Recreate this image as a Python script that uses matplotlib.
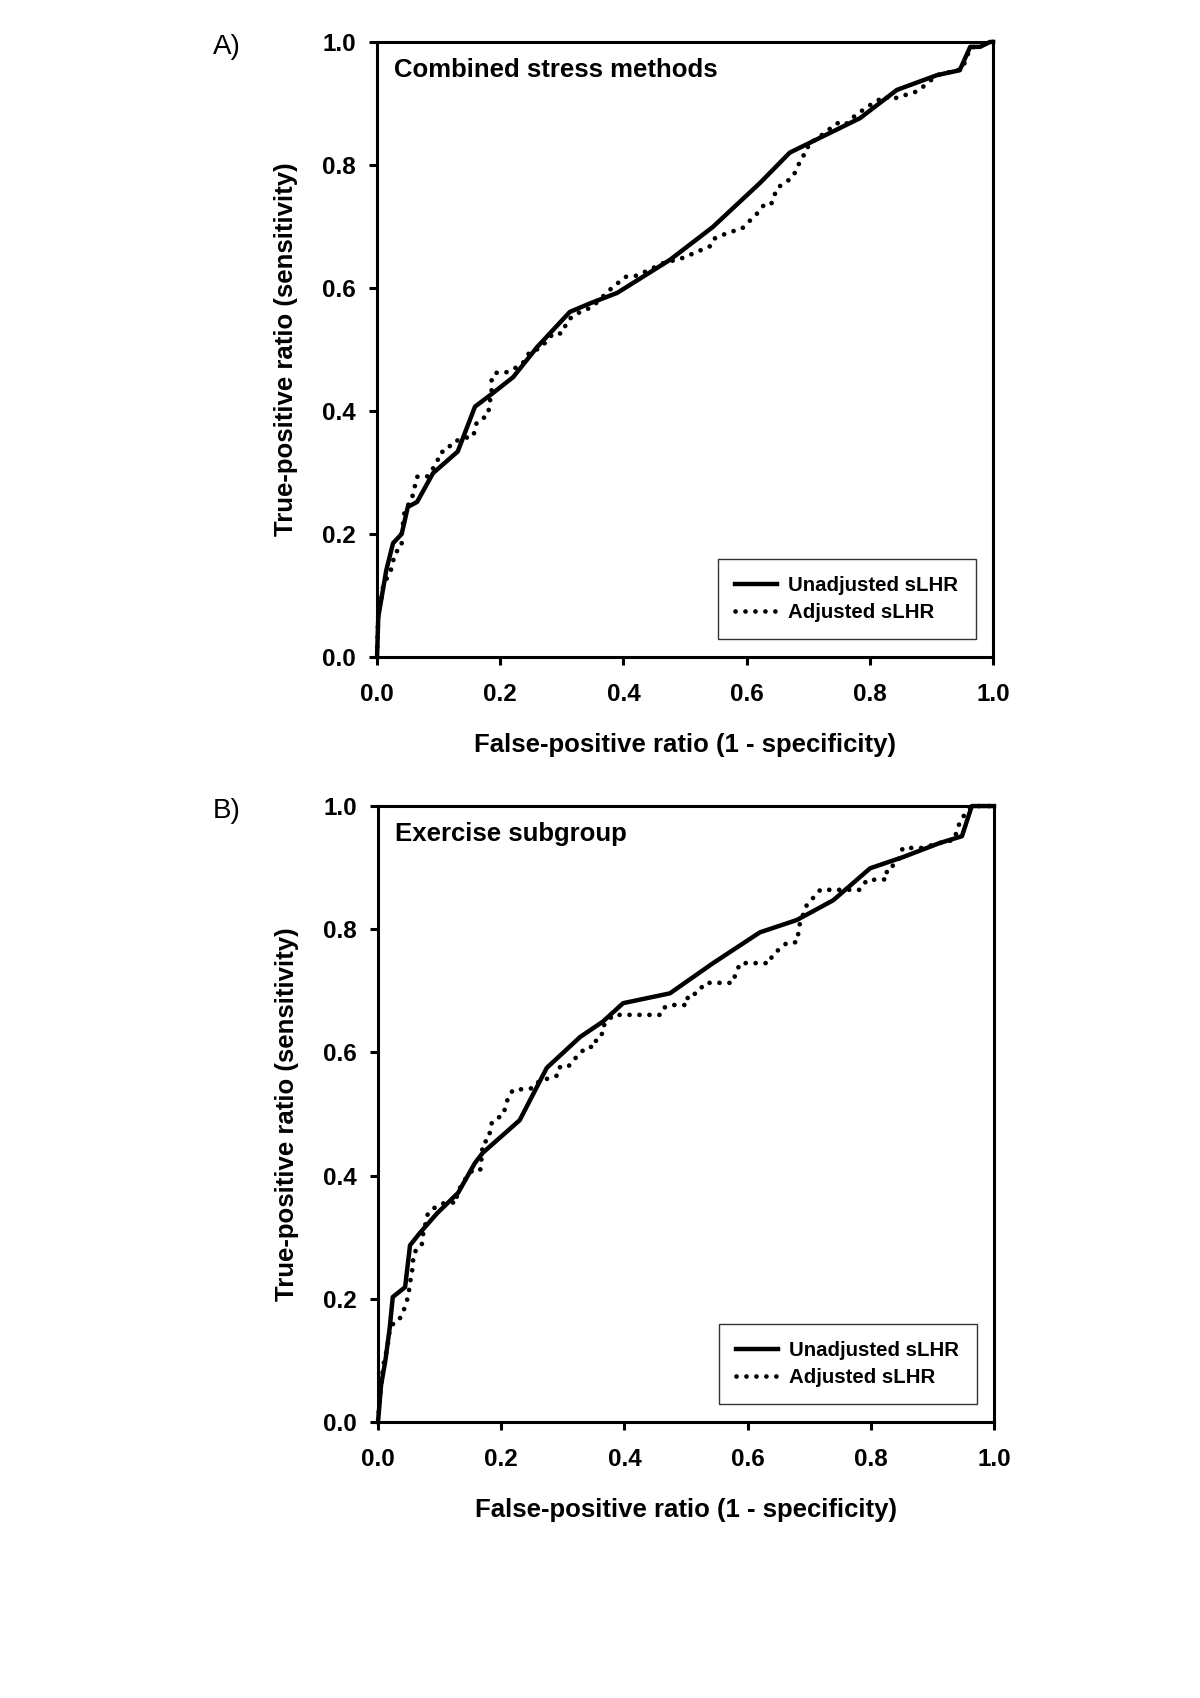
import numpy as np
import matplotlib
matplotlib.use("Agg")
import matplotlib.pyplot as plt

plt.rcParams['font.family'] = ['Liberation Sans', 'DejaVu Sans']

# panel A - combined stress methods
a_unadj_x = [0, 0.002, 0.015, 0.026, 0.04, 0.05, 0.065, 0.091, 0.131, 0.159, 0.188, 0.221, 0.26,
             0.313, 0.346, 0.39, 0.476, 0.545, 0.622, 0.67, 0.784, 0.844, 0.909, 0.946, 0.963,
             0.979, 0.995, 1.0]
a_unadj_y = [0, 0.065, 0.141, 0.185, 0.20, 0.244, 0.252, 0.299, 0.334, 0.407, 0.429, 0.455, 0.504,
             0.561, 0.575, 0.592, 0.646, 0.699, 0.771, 0.82, 0.876, 0.922, 0.946, 0.954, 0.992,
             0.992, 1.0, 1.0]
a_adj_x = [0, 0.002, 0.008, 0.01, 0.021, 0.024, 0.029, 0.04, 0.04, 0.045, 0.056, 0.065, 0.081,
           0.097, 0.102, 0.115, 0.121, 0.14, 0.156, 0.162, 0.18, 0.186, 0.186, 0.192, 0.208,
           0.235, 0.248, 0.265, 0.286, 0.30, 0.31, 0.326, 0.349, 0.378, 0.403, 0.422, 0.464,
           0.497, 0.541, 0.547, 0.568, 0.593, 0.622, 0.63, 0.641, 0.649, 0.675, 0.69, 0.698,
           0.701, 0.711, 0.747, 0.76, 0.771, 0.795, 0.825, 0.833, 0.878, 0.909, 0.95, 0.963, 1.0]
a_adj_y = [0, 0.072, 0.10, 0.117, 0.137, 0.146, 0.169, 0.179, 0.20, 0.239, 0.255, 0.293, 0.293,
           0.315, 0.332, 0.337, 0.348, 0.356, 0.358, 0.382, 0.393, 0.434, 0.453, 0.462, 0.462,
           0.475, 0.496, 0.502, 0.526, 0.526, 0.548, 0.559, 0.569, 0.597, 0.618, 0.62, 0.64,
           0.649, 0.668, 0.68, 0.689, 0.697, 0.726, 0.738, 0.738, 0.762, 0.78, 0.813, 0.821,
           0.837, 0.84, 0.868, 0.865, 0.876, 0.894, 0.912, 0.906, 0.92, 0.946, 0.956, 0.99, 1.0]

# panel B - exercise subgroup
b_unadj_x = [0, 0.005, 0.012, 0.019, 0.024, 0.044, 0.052, 0.068, 0.096, 0.13, 0.157, 0.17, 0.23,
             0.274, 0.328, 0.365, 0.398, 0.474, 0.544, 0.62, 0.68, 0.739, 0.799, 0.852, 0.912,
             0.948, 0.964, 1.0]
b_unadj_y = [0, 0.06, 0.10, 0.153, 0.203, 0.219, 0.287, 0.307, 0.339, 0.372, 0.42, 0.437, 0.49,
             0.575, 0.625, 0.65, 0.68, 0.696, 0.745, 0.795, 0.815, 0.847, 0.899, 0.917, 0.94,
             0.951, 1.0, 1.0]
b_adj_x = [0, 0.003, 0.006, 0.01, 0.015, 0.019, 0.028, 0.036, 0.041, 0.044, 0.049, 0.052, 0.057,
           0.057, 0.063, 0.071, 0.073, 0.081, 0.097, 0.112, 0.128, 0.128, 0.146, 0.154, 0.166,
           0.169, 0.17, 0.179, 0.185, 0.193, 0.203, 0.211, 0.219, 0.252, 0.263, 0.279, 0.292,
           0.295, 0.308, 0.325, 0.339, 0.352, 0.355, 0.365, 0.365, 0.382, 0.458, 0.463, 0.474,
           0.502, 0.503, 0.518, 0.531, 0.576, 0.58, 0.588, 0.636, 0.64, 0.664, 0.68, 0.685,
           0.696, 0.718, 0.782, 0.794, 0.826, 0.826, 0.843, 0.852, 0.883, 0.912, 0.935, 0.945,
           0.955, 0.965, 1.0]
b_adj_y = [0, 0.04, 0.07, 0.10, 0.12, 0.149, 0.166, 0.169, 0.177, 0.19, 0.203, 0.226, 0.255,
           0.271, 0.281, 0.287, 0.304, 0.339, 0.352, 0.357, 0.356, 0.372, 0.401, 0.409, 0.409,
           0.437, 0.453, 0.458, 0.487, 0.493, 0.498, 0.526, 0.539, 0.542, 0.555, 0.558, 0.563,
           0.576, 0.576, 0.596, 0.609, 0.609, 0.625, 0.631, 0.642, 0.661, 0.661, 0.672, 0.677,
           0.677, 0.693, 0.696, 0.713, 0.713, 0.726, 0.745, 0.745, 0.758, 0.778, 0.779, 0.81,
           0.839, 0.864, 0.864, 0.88, 0.881, 0.898, 0.907, 0.932, 0.932, 0.94, 0.945, 0.975,
           0.99, 1.0, 1.0]

ticks = [0.0, 0.2, 0.4, 0.6, 0.8, 1.0]
tick_labels = ['0.0', '0.2', '0.4', '0.6', '0.8', '1.0']


def draw_panel(ax, ux, uy, dx, dy, title):
    ax.plot(ux, uy, color='black', lw=3.2, solid_joinstyle='round', clip_on=False,
            label='Unadjusted sLHR', zorder=3)
    ax.plot(dx, dy, color='black', lw=3.4, linestyle=(0, (0.01, 2.1)),
            dash_capstyle='round', clip_on=False, label='Adjusted sLHR', zorder=3)
    ax.set_xlim(0, 1)
    ax.set_ylim(0, 1)
    ax.set_xticks(ticks)
    ax.set_xticklabels(tick_labels)
    ax.set_yticks(ticks)
    ax.set_yticklabels(tick_labels)
    for s in ax.spines.values():
        s.set_linewidth(2.2)
    ax.tick_params(direction='out', length=6, width=2.2, labelsize=17.5, pad=9)
    ax.tick_params(axis='x', pad=13)
    for t in ax.get_xticklabels() + ax.get_yticklabels():
        t.set_fontweight('bold')
    ax.set_xlabel('False-positive ratio (1 - specificity)', fontsize=18.5, fontweight='bold')
    ax.set_ylabel('True-positive ratio (sensitivity)', fontsize=18.5, fontweight='bold')
    ax.xaxis.set_label_coords(0.5, -0.143)
    ax.xaxis.label.set_verticalalignment('center')
    ax.yaxis.set_label_coords(-0.148, 0.5)
    ax.yaxis.label.set_verticalalignment('center')
    ax.text(0.027, 0.955, title, transform=ax.transAxes, fontsize=18.5, fontweight='bold',
            ha='left', va='center')
    leg = ax.legend(loc='lower right', bbox_to_anchor=(0.972, 0.029),
                    prop={'weight': 'bold', 'size': 14.7}, fancybox=False, framealpha=1,
                    edgecolor='#333333', handlelength=2.05, handletextpad=0.55,
                    borderpad=0.85, labelspacing=0.38, borderaxespad=0)
    leg.get_frame().set_linewidth(1.0)


fig = plt.figure(figsize=(12, 16.98), dpi=100)
ax_a = fig.add_axes([0.3142, 0.6131, 0.5133, 0.3622])
ax_b = fig.add_axes([0.315, 0.1625, 0.5133, 0.3628])

draw_panel(ax_a, a_unadj_x, a_unadj_y, a_adj_x, a_adj_y, 'Combined stress methods')
draw_panel(ax_b, b_unadj_x, b_unadj_y, b_adj_x, b_adj_y, 'Exercise subgroup')

fig.text(0.189, 0.9723, 'A)', fontsize=20, ha='center', va='center')
fig.text(0.189, 0.5224, 'B)', fontsize=20, ha='center', va='center')

fig.savefig('out.png', dpi=100)
